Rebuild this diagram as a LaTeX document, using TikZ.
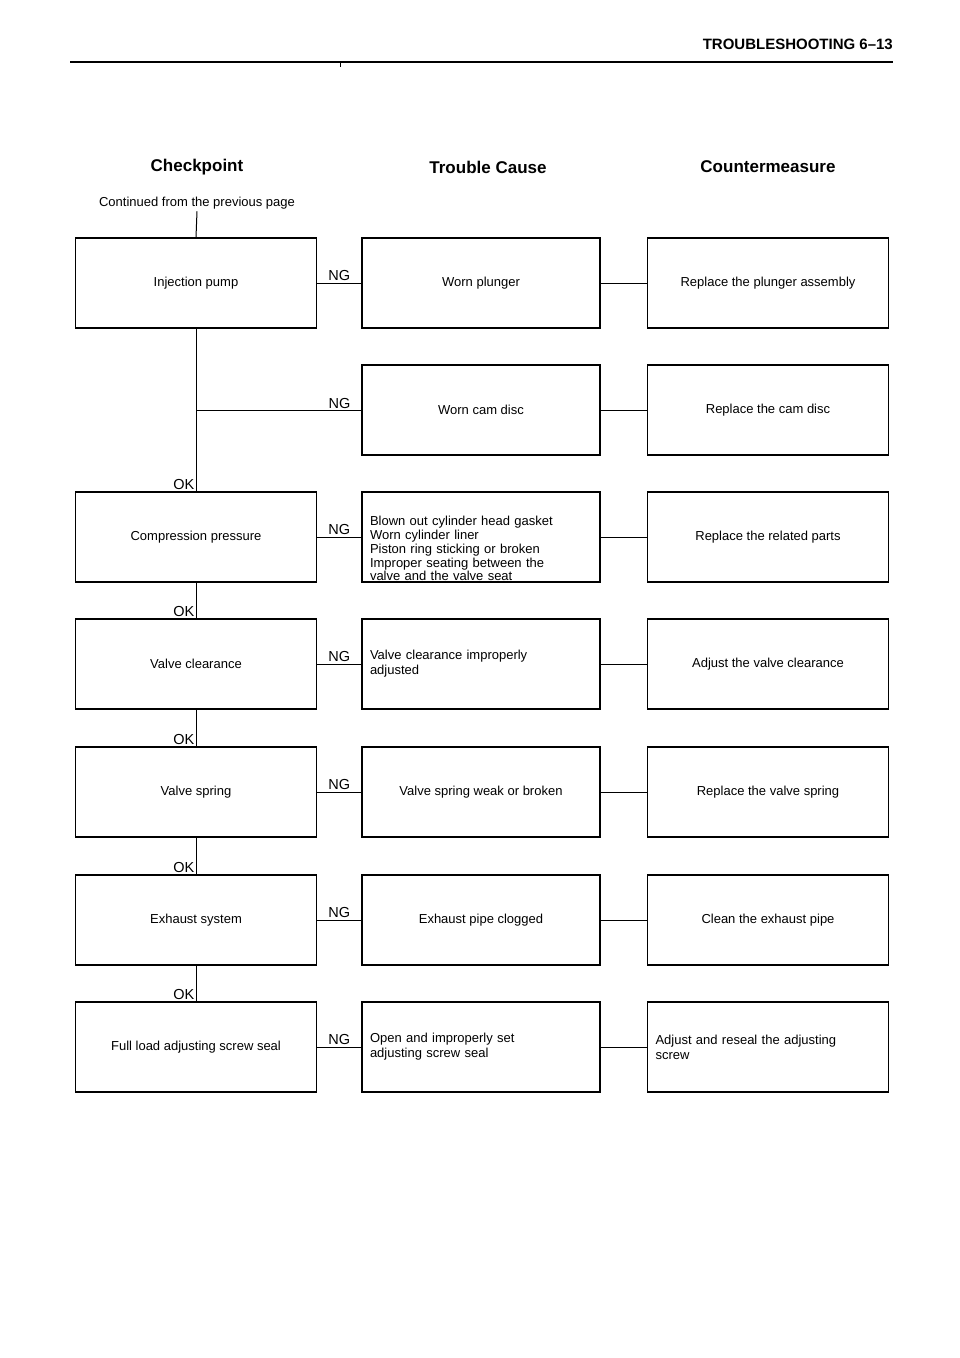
\documentclass[tikz,border=0pt]{standalone}
\usepackage{fontspec}
\setmainfont{Liberation Sans}
\begin{document}
\begin{tikzpicture}[x=1pt,y=-1pt,
  box/.style={draw,line width=1.1pt,minimum width=241pt,minimum height=90pt,inner sep=0pt,font=\fontsize{13}{15}\selectfont},
  lbl/.style={font=\fontsize{14.5}{16}\selectfont,inner sep=1.5pt},
  ln/.style={line width=1pt}]
\useasboundingbox (0,0) rectangle (960,1358);
\draw[line width=2.4pt] (70,62) -- (893,62);
\draw[line width=0.6pt] (340,62) -- (340,67);
\node[anchor=south east,font=\bfseries\fontsize{15}{17}\selectfont,inner sep=0pt] (hdr) at (893,50) {TROUBLESHOOTING 6–13};
\node[font=\bfseries\fontsize{17}{19}\selectfont] (h1) at (197,167) {Checkpoint};
\node[font=\bfseries\fontsize{17}{19}\selectfont] (h2) at (488,167) {Trouble Cause};
\node[font=\bfseries\fontsize{17}{19}\selectfont] (h3) at (768,167) {Countermeasure};
\node[font=\fontsize{13}{15}\selectfont,inner sep=2pt] (cont) at (197,203) {Continued from the previous page};
% checkpoints
\node[box] (c1) at (196,283) {Injection pump};
\node[box] (c3) at (196,537) {Compression pressure};
\node[box] (c4) at (196,664) {Valve clearance};
\node[box] (c5) at (196,792) {Valve spring};
\node[box] (c6) at (196,920) {Exhaust system};
\node[box] (c7) at (196,1047) {Full load adjusting screw seal};
% causes
\tikzset{cb/.style={box,minimum width=238pt},
  cl/.style={cb,text width=222pt,align=left,minimum width=0pt,inner xsep=8pt}}
\node[cb] (t1) at (481,283) {Worn plunger};
\node[cb] (t2) at (481,410) {Worn cam disc};
\node[cl,font=\fontsize{13}{13.8}\selectfont] (t3) at (481,537) {\vbox to 88pt{\vfil\hbox{Blown out cylinder head gasket}\hbox{Worn cylinder liner}\hbox{Piston ring sticking or broken}\hbox{Improper seating between the}\hbox{valve and the valve seat}}};
\node[cl] (t4) at (481,664) {Valve clearance improperly\\adjusted};
\node[cb] (t5) at (481,792) {Valve spring weak or broken};
\node[cb] (t6) at (481,920) {Exhaust pipe clogged};
\node[cl] (t7) at (481,1047) {Open and improperly set\\adjusting screw seal};
% countermeasures
\node[box] (m1) at (768,283) {Replace the plunger assembly};
\node[box] (m2) at (768,410) {Replace the cam disc};
\node[box] (m3) at (768,537) {Replace the related parts};
\node[box] (m4) at (768,664) {Adjust the valve clearance};
\node[box] (m5) at (768,792) {Replace the valve spring};
\node[box] (m6) at (768,920) {Clean the exhaust pipe};
\node[box,text width=225pt,align=left,minimum width=0pt,inner xsep=8pt] (m7) at (768,1047) {Adjust and reseal the adjusting\\screw};
% vertical links
\draw[ln] (cont.south) -- (c1.north);
\draw[ln] (c1.south) -- (c3.north);
\node[lbl,anchor=south east] (ok3) at (c3.north) {OK};
\foreach \a/\b in {c3/c4,c4/c5,c5/c6,c6/c7}{
  \draw[ln] (\a.south) -- (\b.north);
  \node[lbl,anchor=south east] at (\b.north) {OK};
}
\coordinate (bj) at (c1.south |- t2.west);
\draw[ln] (bj) -- (t2.west);
\node[lbl,anchor=south] at ([xshift=-22pt]t2.west) {NG};
\foreach \i in {1,3,4,5,6,7}{
  \draw[ln] (c\i.east) -- (t\i.west) node[lbl,midway,above] {NG};
}
\foreach \i in {1,...,7}{
  \draw[ln] (t\i.east) -- (m\i.west);
}
\end{tikzpicture}
\end{document}
